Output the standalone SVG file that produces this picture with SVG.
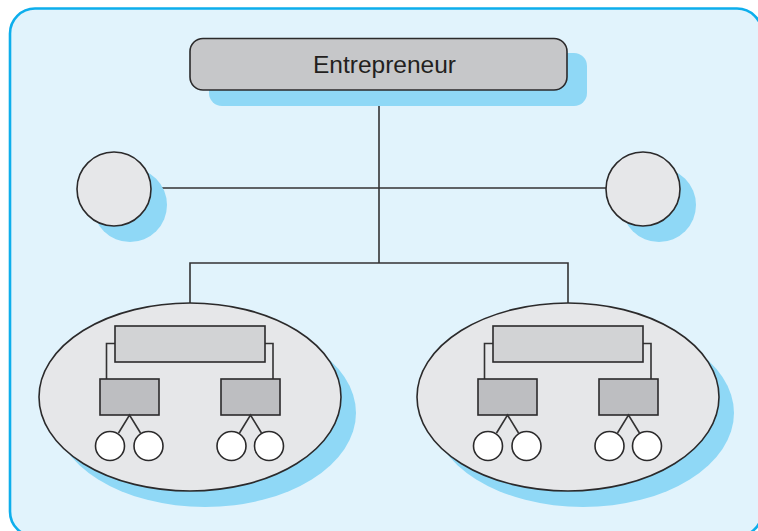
<svg xmlns="http://www.w3.org/2000/svg" width="758" height="531" viewBox="0 0 758 531">
<style>
.shadow{fill:#8fd8f6;stroke:none}
.node{stroke:#2b2a2b;stroke-width:1.6}
.light{fill:#e6e7e9}
.mid{fill:#d2d3d5}
.dark{fill:#bdbec1}
.white{fill:#ffffff}
.conn{fill:none;stroke:#333233;stroke-width:1.6}
.label{font-family:"Liberation Sans",Arial,sans-serif;font-size:23px;fill:#231f20}
</style>
<rect x="0" y="0" width="758" height="531" fill="#ffffff"/>
<rect id="frame" x="10" y="8.5" width="752" height="528" rx="25" fill="#e1f3fc" stroke="#0daeec" stroke-width="2.6"/>

<g id="connectors">
<line class="conn" x1="379" y1="90" x2="379" y2="263"/>
<line class="conn" x1="151" y1="188" x2="606" y2="188"/>
<polyline class="conn" points="190,303 190,263 568,263 568,303"/>
</g>

<g id="entrepreneur">
<rect class="shadow" x="209" y="53" width="378" height="53" rx="13"/>
<rect class="node" x="190" y="38.5" width="377" height="51.5" rx="13" fill="#c6c7c9"/>
<text class="label" x="384.5" y="73" text-anchor="middle" textLength="143" lengthAdjust="spacingAndGlyphs">Entrepreneur</text>
</g>

<g id="circle-left">
<circle class="shadow" cx="130" cy="205" r="37"/>
<circle class="node light" cx="114" cy="189" r="37"/>
</g>

<g id="circle-right">
<circle class="shadow" cx="659" cy="205" r="37"/>
<circle class="node light" cx="643" cy="189" r="37"/>
</g>

<g id="unit-left">
<ellipse class="shadow" cx="205" cy="413" rx="151" ry="94"/>
<ellipse class="node light" cx="190" cy="397" rx="151" ry="94"/>
<polyline class="conn" points="115,343.5 106.5,343.5 106.5,379"/>
<polyline class="conn" points="265,343.5 273,343.5 273,379"/>
<rect class="node mid" x="115" y="326" width="150" height="36"/>
<rect class="node dark" x="100" y="379" width="59" height="36"/>
<rect class="node dark" x="221" y="379" width="59" height="36"/>
<polyline class="conn" points="118.5,433 129.5,415 140.5,433"/>
<polyline class="conn" points="239.5,433 250.5,415 261.5,433"/>
<circle class="node white" cx="110" cy="446" r="14.5"/>
<circle class="node white" cx="148.5" cy="446" r="14.5"/>
<circle class="node white" cx="231.5" cy="446" r="14.5"/>
<circle class="node white" cx="269" cy="446" r="14.5"/>
</g>

<g id="unit-right">
<ellipse class="shadow" cx="583" cy="413" rx="151" ry="94"/>
<ellipse class="node light" cx="568" cy="397" rx="151" ry="94"/>
<polyline class="conn" points="493,343.5 484.5,343.5 484.5,379"/>
<polyline class="conn" points="643,343.5 651,343.5 651,379"/>
<rect class="node mid" x="493" y="326" width="150" height="36"/>
<rect class="node dark" x="478" y="379" width="59" height="36"/>
<rect class="node dark" x="599" y="379" width="59" height="36"/>
<polyline class="conn" points="496.5,433 507.5,415 518.5,433"/>
<polyline class="conn" points="617.5,433 628.5,415 639.5,433"/>
<circle class="node white" cx="488" cy="446" r="14.5"/>
<circle class="node white" cx="526.5" cy="446" r="14.5"/>
<circle class="node white" cx="609.5" cy="446" r="14.5"/>
<circle class="node white" cx="647" cy="446" r="14.5"/>
</g>
</svg>
